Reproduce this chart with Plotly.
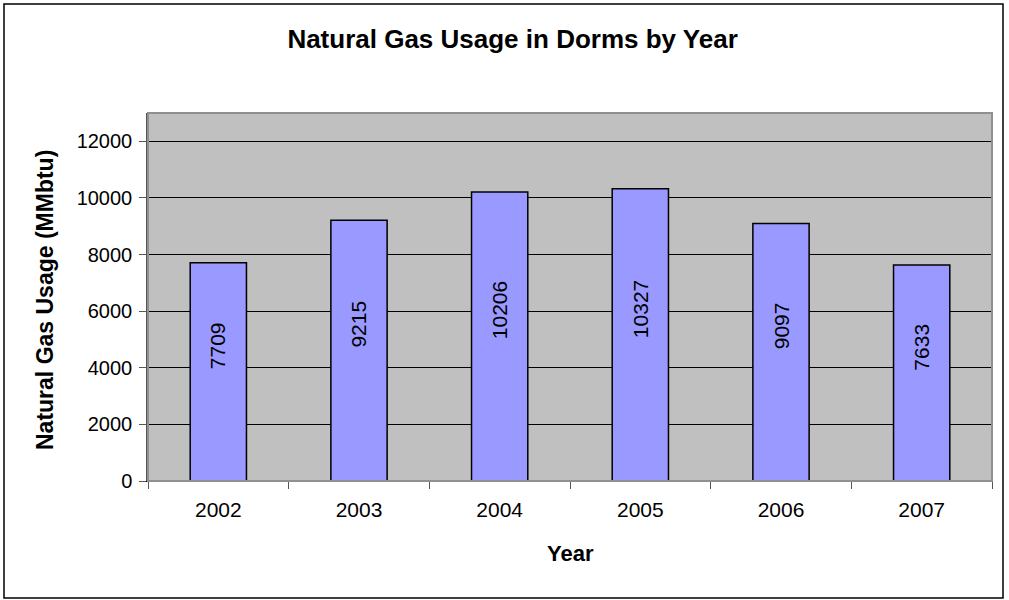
import plotly.graph_objects as go

years = ["2002", "2003", "2004", "2005", "2006", "2007"]
usage = [7709, 9215, 10206, 10327, 9097, 7633]
y_ticks = [0, 2000, 4000, 6000, 8000, 10000, 12000]

FONT = "Liberation Sans, Arial, sans-serif"
L, R, T, B = 148, 17, 113, 119
W, H = 1009, 600
PW, PH = W - L - R, H - T - B

fig = go.Figure()
fig.add_trace(go.Bar(
    x=years, y=usage,
    marker=dict(color="#9999FF", line=dict(color="black", width=1.5)),
    width=0.4,
    hoverinfo="x+y",
))
# value labels, rotated, inside the bars (category index on the x axis)
for i, v in enumerate(usage):
    fig.add_annotation(x=i, y=v / 2, text=str(v), textangle=-90, showarrow=False,
                       yshift=26, xanchor="center", yanchor="middle",
                       font=dict(family=FONT, size=21, color="black"))

fig.update_layout(
    width=W, height=H,
    margin=dict(l=L, r=R, t=T, b=B),
    paper_bgcolor="white",
    plot_bgcolor="#C0C0C0",
    showlegend=False,
    title=dict(text="<b>Natural Gas Usage in Dorms by Year</b>", xref="container", x=0.508,
               y=1 - 39 / H, yanchor="middle",
               font=dict(family=FONT, size=26, color="black")),
    font=dict(family=FONT, size=20, color="black"),
)
fig.update_xaxes(
    type="category", categoryarray=years, range=[-0.5, len(years) - 0.5],
    tickson="boundaries", ticks="outside", ticklen=7, tickcolor="#555",
    showline=True, linecolor="black", linewidth=1, showgrid=False,
    tickfont=dict(family=FONT, size=21, color="black"),
    ticklabelstandoff=10,
)
fig.update_yaxes(
    range=[0, 13000], tickvals=y_ticks, tickformat="d", ticks="outside", ticklen=7, tickcolor="#555",
    showline=True, linecolor="#555", linewidth=1.5,
    showgrid=True, gridcolor="black", gridwidth=1, zeroline=False,
    tickfont=dict(family=FONT, size=20, color="black"),
    ticklabelstandoff=3,
)
fig.add_annotation(text="<b>Natural Gas Usage (MMbtu)</b>", xref="paper", yref="paper",
                   x=(45 - L) / PW, y=(H - B - 300) / PH, textangle=-90, showarrow=False,
                   xanchor="center", yanchor="middle",
                   font=dict(family=FONT, size=23, color="black"))
fig.add_annotation(text="<b>Year</b>", xref="paper", yref="paper",
                   x=(570 - L) / PW, y=(H - B - 553) / PH, showarrow=False,
                   xanchor="center", yanchor="middle",
                   font=dict(family=FONT, size=22, color="black"))
# plot-area border (gray) and outer chart border
fig.add_shape(type="rect", xref="paper", yref="paper", x0=0, x1=1, y0=0, y1=1,
              line=dict(color="#909090", width=2), layer="above")
fig.add_shape(type="rect", xref="paper", yref="paper",
              x0=(4 - L) / PW, x1=(1003 - L) / PW, y0=(H - B - 598) / PH, y1=(H - B - 4) / PH,
              line=dict(color="black", width=1.5), layer="above")

fig.write_html("out.html", config={"displayModeBar": False},
               post_script="document.body.style.margin='0';")
